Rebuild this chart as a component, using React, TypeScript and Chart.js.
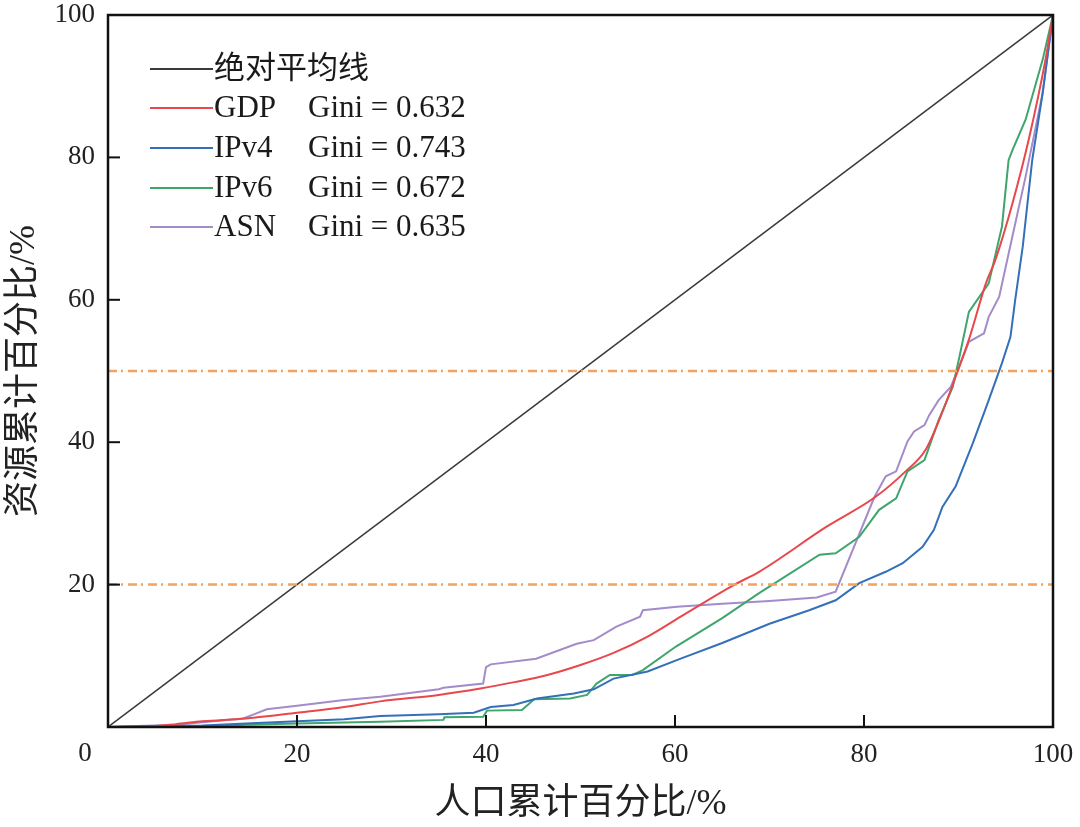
import React, { useEffect, useRef } from 'react';
import { Chart, registerables } from 'chart.js';

Chart.register(...registerables);

// ---- data ----
const xTicks = [0, 20, 40, 60, 80, 100];
const yTicks = [0, 20, 40, 60, 80, 100];

const equalityLine: number[][] = [[0, 0], [100, 100]];

const gdpCurve: number[][] = [
  [0, 0], [5, 0.15], [7.2, 0.4], [10, 0.8], [14.6, 1.2], [20, 2.0], [25, 2.8], [28.8, 3.6],
  [35, 4.5], [39.4, 5.4], [43, 6.3], [46.5, 7.3], [50, 8.7], [53.5, 10.4], [57.1, 12.7],
  [60.6, 15.5], [66.3, 20], [68.9, 21.8], [76, 28.1], [81.2, 32.3], [84.4, 35.9], [86.5, 38.9],
  [88.1, 43.6], [89.7, 49.2], [91.1, 54.4], [92.9, 62.3], [93.9, 65.6], [95.7, 73.5],
  [97.5, 82.9], [99.2, 93.7], [100, 100],
];

const ipv4Curve: number[][] = [
  [0, 0], [10, 0.2], [14.6, 0.5], [20, 0.8], [25, 1.1], [28.8, 1.55], [35, 1.8], [38.7, 2.0],
  [40.5, 2.8], [42.9, 3.1], [45.4, 4.0], [49.3, 4.7], [51.4, 5.3], [53.5, 6.8], [57.1, 7.8],
  [60.6, 9.6], [65, 11.8], [70, 14.5], [74.2, 16.4], [77, 17.8], [79.5, 20.2], [82.3, 21.8],
  [84.1, 23.0], [86.2, 25.3], [87.4, 27.7], [88.3, 30.9], [89.7, 33.8], [91.5, 39.8],
  [93.2, 45.9], [94.6, 51.1], [95.5, 54.8], [96.0, 60.0], [96.8, 67.5], [97.8, 79.6],
  [98.9, 89], [100, 100],
];

const ipv6Curve: number[][] = [
  [0, 0], [10, 0.1], [14.6, 0.3], [20, 0.5], [28.8, 0.75], [35.5, 1.0], [35.6, 1.36],
  [39.7, 1.45], [40.1, 2.3], [43.8, 2.4], [45.1, 3.9], [48.9, 4.0], [50.7, 4.5], [51.7, 6.1],
  [53.1, 7.3], [55.5, 7.3], [56.6, 8.0], [60.1, 11.3], [65, 15.3], [68.9, 18.8], [75.3, 24.2],
  [77, 24.4], [79.5, 26.7], [81.6, 30.5], [83.4, 32.1], [84.6, 35.9], [86.4, 37.5],
  [87.9, 43.1], [89.4, 47.8], [90.1, 52.0], [91.1, 58.3], [93.2, 62.3], [94.6, 70.3],
  [95.3, 79.6], [95.7, 81.0], [97.1, 85.3], [98.9, 93.7], [100, 100],
];

const asnCurve: number[][] = [
  [0, 0], [7.2, 0.3], [12, 0.9], [14.3, 1.2], [15.5, 1.8], [16.8, 2.5], [20, 3.0], [25, 3.8],
  [28.8, 4.26], [35, 5.3], [35.5, 5.5], [39.7, 6.1], [40.0, 8.4], [40.5, 8.8], [45.3, 9.6],
  [49.6, 11.7], [51.4, 12.2], [53.8, 14.1], [56.3, 15.5], [56.6, 16.4], [60.2, 16.9],
  [65, 17.3], [70, 17.7], [75, 18.2], [77, 19.0], [81.1, 32.3], [82.3, 35.2], [83.4, 35.9],
  [84.6, 40.1], [85.3, 41.5], [86.4, 42.4], [86.9, 43.8], [87.9, 45.9], [89.2, 47.8],
  [89.9, 50.1], [91.1, 54.1], [92.7, 55.3], [93.2, 57.6], [94.3, 60.4], [95.7, 68.9],
  [97.1, 77.3], [98.9, 89.0], [100, 100],
];

const refLevels = [50, 20];

const legendNames = ['绝对平均线', 'GDP', 'IPv4', 'IPv6', 'ASN'];
const giniLabels = ['', 'Gini = 0.632', 'Gini = 0.743', 'Gini = 0.672', 'Gini = 0.635'];
const seriesColors = ['#3a3a3a', '#e8474c', '#3470b8', '#3fa56c', '#a48bc9'];
const refColor = '#f2a35e';

const SERIF = '"Liberation Serif", "Times New Roman", "Noto Sans CJK SC", serif';

const toPts = (arr: number[][]) => arr.map(([x, y]) => ({ x, y }));

const framePlugin = {
  id: 'framePlugin',
  afterDatasetsDraw(chart: any) {
    const { ctx, chartArea, scales } = chart;
    const { left, right, top, bottom } = chartArea;
    const xs = scales.x;
    const ys = scales.y;
    ctx.save();
    // frame
    ctx.strokeStyle = '#111';
    ctx.lineWidth = 2.5;
    ctx.strokeRect(left, top, right - left, bottom - top);
    // inward tick marks
    ctx.lineWidth = 2;
    xTicks.forEach((v) => {
      if (v > 0 && v < 100) {
        const px = xs.getPixelForValue(v);
        ctx.beginPath();
        ctx.moveTo(px, bottom);
        ctx.lineTo(px, bottom - 12);
        ctx.stroke();
      }
    });
    yTicks.forEach((v) => {
      if (v > 0 && v < 100) {
        const py = ys.getPixelForValue(v);
        ctx.beginPath();
        ctx.moveTo(left, py);
        ctx.lineTo(left + 12, py);
        ctx.stroke();
      }
    });
    // shared origin label
    ctx.fillStyle = '#222';
    ctx.font = `27px ${SERIF}`;
    ctx.textAlign = 'center';
    ctx.textBaseline = 'middle';
    ctx.fillText(String(xTicks[0]), left - 23, bottom + 27);
    // legend
    const rowY = [69, 108, 148, 188, 227];
    ctx.font = `31px ${SERIF}`;
    ctx.textAlign = 'left';
    legendNames.forEach((name, i) => {
      const y = rowY[i];
      ctx.strokeStyle = seriesColors[i];
      ctx.lineWidth = 2;
      ctx.beginPath();
      ctx.moveTo(150, y);
      ctx.lineTo(213, y);
      ctx.stroke();
      ctx.fillStyle = '#1a1a1a';
      ctx.fillText(name, 214, y + 1);
      if (giniLabels[i]) ctx.fillText(giniLabels[i], 308, y + 1);
    });
    ctx.restore();
  },
};

export default function App() {
  const canvasRef = useRef<HTMLCanvasElement | null>(null);

  useEffect(() => {
    if (!canvasRef.current) return;
    const lineDs = (label: string, data: number[][], color: string, width = 2, extra: any = {}) => ({
      label,
      data: toPts(data),
      borderColor: color,
      backgroundColor: color,
      borderWidth: width,
      pointRadius: 0,
      fill: false,
      tension: 0,
      ...extra,
    });
    const chart = new Chart(canvasRef.current, {
      type: 'line',
      data: {
        datasets: [
          ...refLevels.map((lv, i) =>
            lineDs('ref' + i, [[0, lv], [100, lv]], refColor, 2.5, { borderDash: [9, 4, 2, 5] })
          ),
          lineDs(legendNames[0], equalityLine, seriesColors[0], 1.5),
          lineDs(legendNames[1], gdpCurve, seriesColors[1], 2, { cubicInterpolationMode: 'monotone' }),
          lineDs(legendNames[2], ipv4Curve, seriesColors[2], 2),
          lineDs(legendNames[3], ipv6Curve, seriesColors[3], 2),
          lineDs(legendNames[4], asnCurve, seriesColors[4], 2),
        ],
      },
      options: {
        responsive: false,
        animation: false,
        layout: { autoPadding: false, padding: { left: 0, top: 15, right: 27, bottom: 0 } },
        plugins: { legend: { display: false }, tooltip: { enabled: false } },
        scales: {
          x: {
            type: 'linear',
            min: 0,
            max: 100,
            grid: { display: false, drawTicks: false },
            border: { display: false },
            ticks: {
              stepSize: 20,
              padding: 12,
              color: '#222',
              font: { family: SERIF, size: 27 },
              callback: (v: any) => (v === 0 ? '' : String(v)),
            },
            title: {
              display: true,
              text: '人口累计百分比/%',
              color: '#222',
              font: { family: SERIF, size: 36 },
              padding: { top: 0, bottom: 1 },
            },
            afterFit: (s: any) => {
              s.height = 100;
              s.paddingLeft = 0;
              s.paddingRight = 0;
            },
          },
          y: {
            type: 'linear',
            min: 0,
            max: 100,
            grid: { display: false, drawTicks: false },
            border: { display: false },
            ticks: {
              stepSize: 20,
              padding: 13,
              color: '#222',
              font: { family: SERIF, size: 27 },
              callback: (v: any) => (v === 0 ? '' : String(v)),
            },
            title: {
              display: true,
              text: '资源累计百分比/%',
              color: '#222',
              font: { family: SERIF, size: 36 },
              padding: { top: 3, bottom: 0 },
            },
            afterFit: (s: any) => {
              s.width = 108;
              s.paddingTop = 0;
              s.paddingBottom = 0;
            },
          },
        },
      },
      plugins: [framePlugin],
    });
    return () => chart.destroy();
  }, []);

  return (
    <div style={{ position: 'absolute', left: 0, top: 0, width: 1080, height: 827, background: '#fff' }}>
      <canvas ref={canvasRef} width={1080} height={827} />
    </div>
  );
}
